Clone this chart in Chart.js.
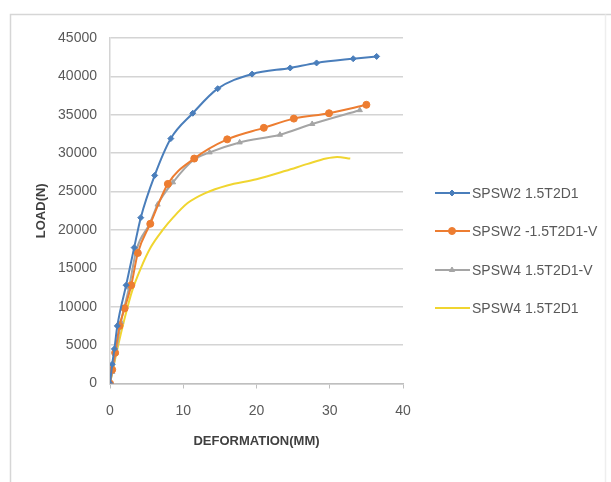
<!DOCTYPE html>
<html>
<head>
<meta charset="utf-8">
<script src="https://cdn.jsdelivr.net/npm/chart.js@4/dist/chart.umd.min.js"></script>
<style>
  html, body { margin: 0; padding: 0; background: #fff; }
  #wrap { position: relative; width: 611px; height: 482px; }
</style>
</head>
<body>
<div id="wrap"><canvas id="c" width="611" height="482"></canvas></div>
<script>
// ---- data ----
const seriesNames = ["SPSW2 1.5T2D1", "SPSW2 -1.5T2D1-V", "SPSW4 1.5T2D1-V", "SPSW4 1.5T2D1"];

const spsw2X = [0, 0.3, 0.6, 1.0, 2.2, 3.3, 4.2, 6.1, 8.3, 11.3, 14.7, 19.4, 24.6, 28.2, 33.2, 36.4];
const spsw2Y = [0, 2500, 4500, 7500, 12800, 17700, 21600, 27100, 31900, 35200, 38400, 40300, 41100, 41750, 42300, 42600];

const spsw2vX = [0, 0.3, 0.7, 1.3, 2.0, 2.9, 3.8, 5.5, 7.9, 11.5, 16.0, 21.0, 25.1, 29.9, 35.0];
const spsw2vY = [0, 1800, 4000, 7500, 9800, 12800, 17000, 20800, 26000, 29300, 31800, 33300, 34500, 35200, 36300];

const spsw4vX = [0, 0.3, 0.8, 1.5, 2.6, 3.6, 5.4, 6.5, 8.6, 11.4, 13.6, 17.7, 23.2, 27.6, 34.1];
const spsw4vY = [0, 1500, 4000, 8000, 12500, 17400, 20800, 23300, 26200, 29100, 30100, 31400, 32400, 33800, 35600];

const spsw4X = [0, 1.0, 2.0, 3.0, 4.2, 5.6, 7.2, 8.6, 10.6, 13.0, 16.0, 20.0, 24.0, 27.0, 29.5, 31.0, 32.8];
const spsw4Y = [0, 4500, 8500, 12000, 15000, 17800, 20000, 21600, 23500, 24800, 25800, 26600, 27700, 28600, 29300, 29500, 29300];

const xTicks = [0, 10, 20, 30, 40];
const yTicks = [0, 5000, 10000, 15000, 20000, 25000, 30000, 35000, 40000, 45000];

const colors = ["#4A7EBB", "#ED7D31", "#A5A5A5", "#F0D530"];
const markers = ["rectRot", "circle", "triangle", false];
const markerSizes = [3, 3.5, 3, 0];

function pts(xs, ys) { return xs.map((x, i) => ({ x: x, y: ys[i] })); }
const allData = [pts(spsw2X, spsw2Y), pts(spsw2vX, spsw2vY), pts(spsw4vX, spsw4vY), pts(spsw4X, spsw4Y)];

const FONT = "'Liberation Sans', Arial, sans-serif";

const datasets = allData.map((d, i) => ({
  label: seriesNames[i],
  data: d,
  showLine: true,
  borderColor: colors[i],
  backgroundColor: colors[i],
  borderWidth: 2,
  pointStyle: markers[i] || 'circle',
  pointRadius: markerSizes[i],
  pointHoverRadius: markerSizes[i],
  pointBorderWidth: 1,
  cubicInterpolationMode: 'monotone',
  order: i === 3 ? 4 : i
}));

const framePlugin = {
  id: 'frame',
  beforeDraw(chart) {
    const ctx = chart.ctx;
    ctx.save();
    ctx.fillStyle = '#fff';
    ctx.fillRect(0, 0, chart.width, chart.height);
    ctx.strokeStyle = '#D6D6D6';
    ctx.lineWidth = 1.5;
    ctx.beginPath();
    ctx.moveTo(10.5, 482);
    ctx.lineTo(10.5, 14.5);
    ctx.lineTo(611, 14.5);
    ctx.stroke();
    ctx.strokeStyle = '#EEEEEE';
    ctx.beginPath();
    ctx.moveTo(605.5, 14.5);
    ctx.lineTo(605.5, 482);
    ctx.stroke();
    ctx.restore();
  }
};

const legendPlugin = {
  id: 'sideLegend',
  afterDraw(chart) {
    const ctx = chart.ctx;
    const ys = [193, 231, 270, 308];
    ctx.save();
    chart.data.datasets.forEach((ds, i) => {
      const y = ys[i];
      ctx.strokeStyle = ds.borderColor;
      ctx.lineWidth = 2;
      ctx.beginPath();
      ctx.moveTo(435, y);
      ctx.lineTo(470, y);
      ctx.stroke();
      if (markers[i]) {
        ctx.fillStyle = ds.backgroundColor;
        ctx.strokeStyle = ds.borderColor;
        ctx.lineWidth = 1;
        Chart.helpers.drawPoint(ctx, { pointStyle: markers[i], radius: markerSizes[i], borderWidth: 1, rotation: 0 }, 452, y);
      }
      ctx.fillStyle = '#595959';
      ctx.font = '14px ' + FONT;
      ctx.textBaseline = 'middle';
      ctx.textAlign = 'left';
      ctx.fillText(ds.label, 472, y + 1);
    });
    ctx.restore();
  }
};

new Chart(document.getElementById('c'), {
  type: 'scatter',
  data: { datasets: datasets },
  options: {
    responsive: false,
    animation: false,
    events: [],
    layout: { padding: { left: 10, top: 38, right: 208, bottom: 0 } },
    plugins: { legend: { display: false }, tooltip: { enabled: false } },
    scales: {
      x: {
        type: 'linear',
        min: 0, max: 40,
        afterBuildTicks(axis) { axis.ticks = xTicks.map(v => ({ value: v })); },
        afterFit(axis) { axis.height = 98.5; },
        grid: { drawOnChartArea: false, drawTicks: true, tickLength: 5, color: '#BFBFBF', lineWidth: 1 },
        border: { display: true, color: '#BFBFBF', width: 1.5 },
        ticks: { color: '#595959', font: { family: FONT, size: 14 }, padding: 14, maxRotation: 0 },
        title: { display: true, text: 'DEFORMATION(MM)', color: '#404040',
                 font: { family: FONT, size: 13, weight: 'bold' }, padding: { top: 0, bottom: 33 } }
      },
      y: {
        type: 'linear',
        min: 0, max: 45000,
        afterBuildTicks(axis) { axis.ticks = yTicks.map(v => ({ value: v })); },
        afterFit(axis) { axis.width = 100; },
        grid: { drawTicks: false, color: '#D4D4D4', lineWidth: 1.5 },
        border: { display: true, color: '#D4D4D4', width: 1.5 },
        ticks: { color: '#595959', font: { family: FONT, size: 14 }, padding: 13,
                 callback: v => String(v) },
        title: { display: true, text: 'LOAD(N)', color: '#404040',
                 font: { family: FONT, size: 13, weight: 'bold' }, padding: { top: 24, bottom: 0 } }
      }
    }
  },
  plugins: [framePlugin, legendPlugin]
});
</script>
</body>
</html>
